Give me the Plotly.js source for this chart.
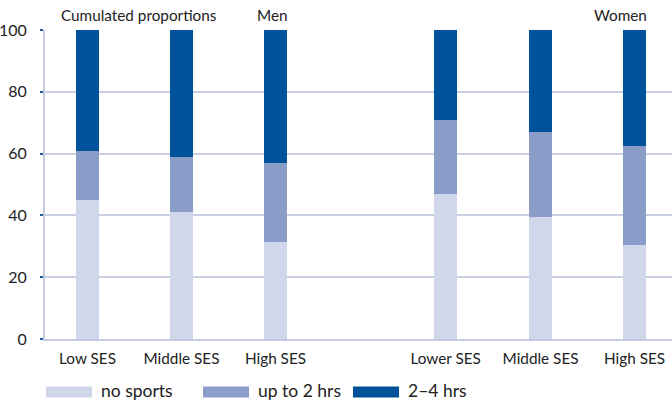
<!DOCTYPE html>
<html>
<head>
<meta charset="utf-8">
<script src="https://cdn.plot.ly/plotly-3.0.1.min.js"></script>
<style>html,body{margin:0;padding:0;background:#fff;}#chart{width:672px;height:407px;}</style>
</head>
<body>
<div id="chart"></div>
<script>
// ---- data ----
const categories = ["Low SES", "Middle SES", "High SES", "Lower SES", "Middle SES", "High SES"];
const groups = ["Men", "Men", "Men", "Women", "Women", "Women"];
const noSports = [45, 41, 31.5, 47, 39.5, 30.5];
const upTo2hrs = [16, 18, 25.5, 24, 27.5, 32];
const hrs2to4 = [39, 41, 43, 29, 33, 37.5];
const seriesNames = ["no sports", "up to 2 hrs", "2\u20134 hrs"];
const yTicks = [0, 20, 40, 60, 80, 100];

// ---- layout helpers ----
const W = 672, H = 407;
const M = {l: 45, r: 0, t: 30, b: 67.5};
const slotPos = [0, 1, 2, 3.81, 4.82, 5.82];
const colors = ["#d0d7ea", "#8a9cc8", "#00529b"];
const font = "Lato, 'Open Sans', sans-serif";
const txt = "#222222";
const px = x => (x - M.l) / (W - M.l - M.r);
const py = y => (H - M.b - y) / (H - M.t - M.b);

const vals = [noSports, upTo2hrs, hrs2to4];
const traces = vals.map((v, i) => ({
  type: "bar",
  name: seriesNames[i],
  x: slotPos,
  y: v,
  customdata: categories.map((c, k) => groups[k] + " " + c),
  width: 0.245,
  marker: {color: colors[i], line: {width: 0}},
  showlegend: false,
  hovertemplate: "%{customdata}: %{y}<extra>" + seriesNames[i] + "</extra>"
}));

const shapes = [];
const annotations = [
  {text: "Cumulated proportions", x: px(59), y: py(15), xanchor: "left"},
  {text: "Men", x: px(272), y: py(15), xanchor: "center"},
  {text: "Women", x: px(620), y: py(15), xanchor: "center"}
].map(a => Object.assign({xref: "paper", yref: "paper", yanchor: "middle", showarrow: false,
  font: {family: font, size: 15.3, color: txt}}, a));

// legend (manual wide swatches)
const legX = [46, 203, 353];
seriesNames.forEach((n, i) => {
  shapes.push({type: "rect", xref: "paper", yref: "paper",
    x0: px(legX[i]), x1: px(legX[i] + 46), y0: py(398), y1: py(387),
    fillcolor: colors[i], line: {width: 0}});
  annotations.push({text: n, xref: "paper", yref: "paper", x: px(legX[i] + 53), y: py(391),
    xanchor: "left", yanchor: "middle", showarrow: false,
    font: {family: font, size: 17.5, color: txt}});
});

const layout = {
  width: W, height: H,
  margin: M,
  paper_bgcolor: "#ffffff", plot_bgcolor: "#ffffff",
  barmode: "stack",
  showlegend: false,
  font: {family: font, size: 15, color: txt},
  xaxis: {
    range: [(M.l - 87.5) / 94, (W - 87.5) / 94],
    tickvals: slotPos, ticktext: categories,
    showgrid: false, zeroline: false,
    showline: true, linecolor: "#c5cbe0", linewidth: 2,
    ticks: "", ticklabelstandoff: 5,
    tickfont: {family: font, size: 15.3, color: txt},
    fixedrange: true
  },
  yaxis: {
    range: [0, 100],
    tickvals: yTicks,
    showgrid: false, zeroline: false,
    showline: true, linecolor: "#c5cbe0", linewidth: 2,
    ticks: "outside", ticklen: 3, tickwidth: 2, tickcolor: "#1f5aa0",
    tickfont: {family: font, size: 16, color: txt},
    ticklabelstandoff: 10,
    fixedrange: true
  },
  yaxis2: {
    overlaying: "y", range: [0, 100], tickvals: [20, 40, 60, 80],
    showticklabels: false, showgrid: true, gridcolor: "#c8cfe3", gridwidth: 2,
    zeroline: false, showline: false, ticks: "", fixedrange: true
  },
  shapes: shapes,
  annotations: annotations
};

// dummy invisible trace to activate the grid axis
traces.unshift({type: "scatter", x: [slotPos[0]], y: [0], yaxis: "y2", mode: "markers",
  marker: {opacity: 0}, hoverinfo: "skip", showlegend: false});

Plotly.newPlot("chart", traces, layout, {displayModeBar: false, staticPlot: true});
</script>
</body>
</html>
